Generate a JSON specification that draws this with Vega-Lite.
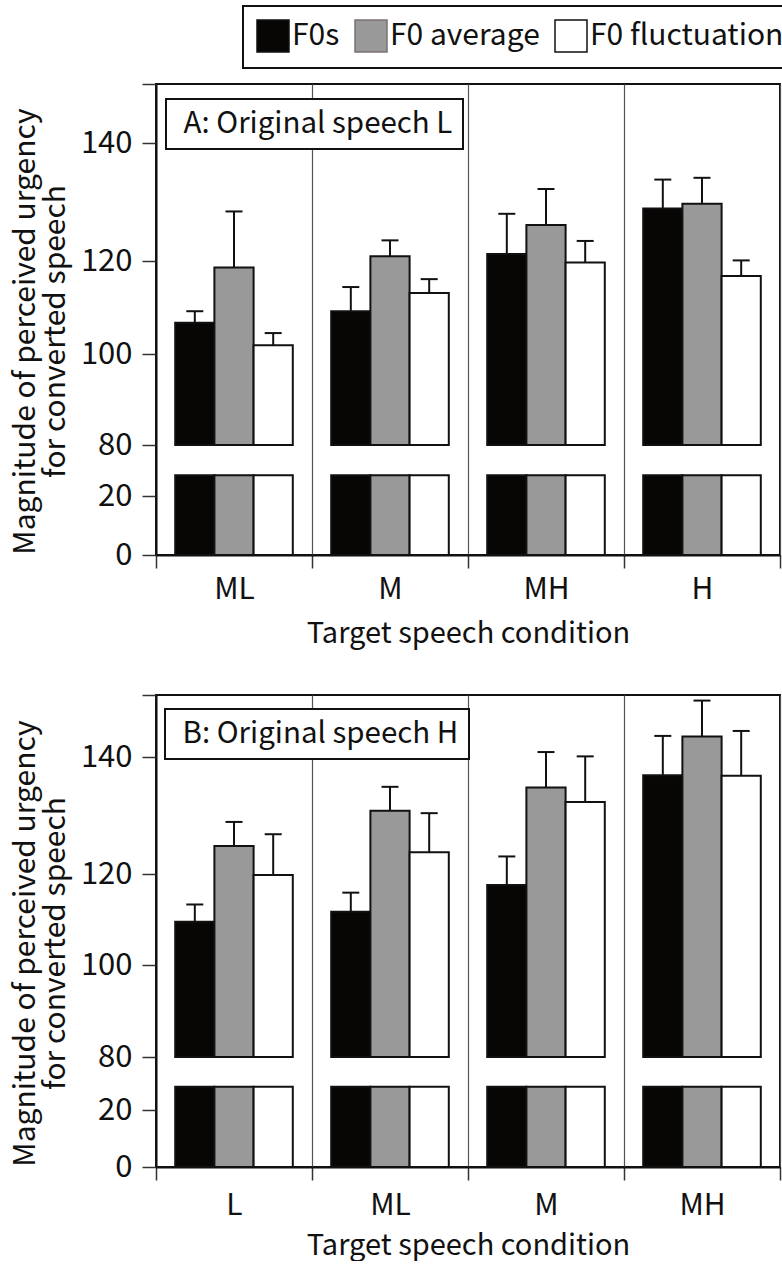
{
  "$schema": "https://vega.github.io/schema/vega-lite/v6.json",
  "padding": {"left": 9, "top": 4, "right": 0, "bottom": 0},
  "background": "white",
  "config": {
    "font": "Noto Sans CJK JP",
    "view": {"stroke": "#111111", "strokeWidth": 2},
    "axis": {
      "labelFont": "Noto Sans CJK JP",
      "titleFont": "Noto Sans CJK JP",
      "labelColor": "#111111",
      "titleColor": "#111111",
      "titleFontWeight": "normal",
      "domainColor": "#111111",
      "domainWidth": 2,
      "tickColor": "#333333",
      "tickWidth": 1.5
    },
    "legend": {"labelFont": "Noto Sans CJK JP", "labelColor": "#111111", "strokeWidth": 2}
  },
  "datasets": {
    "panelA": [
      {"panel": "A: Original speech L", "condition": "ML", "factor": "F0s", "value": 106.7, "err": 109.2},
      {"panel": "A: Original speech L", "condition": "ML", "factor": "F0 average", "value": 118.6, "err": 128.4},
      {"panel": "A: Original speech L", "condition": "ML", "factor": "F0 fluctuation", "value": 101.9, "err": 104.5},
      {"panel": "A: Original speech L", "condition": "M", "factor": "F0s", "value": 109.2, "err": 114.4},
      {"panel": "A: Original speech L", "condition": "M", "factor": "F0 average", "value": 120.8, "err": 123.5},
      {"panel": "A: Original speech L", "condition": "M", "factor": "F0 fluctuation", "value": 113.1, "err": 116.1},
      {"panel": "A: Original speech L", "condition": "MH", "factor": "F0s", "value": 121.2, "err": 128.0},
      {"panel": "A: Original speech L", "condition": "MH", "factor": "F0 average", "value": 126.1, "err": 132.2},
      {"panel": "A: Original speech L", "condition": "MH", "factor": "F0 fluctuation", "value": 119.7, "err": 123.4},
      {"panel": "A: Original speech L", "condition": "H", "factor": "F0s", "value": 128.9, "err": 133.8},
      {"panel": "A: Original speech L", "condition": "H", "factor": "F0 average", "value": 129.7, "err": 134.1},
      {"panel": "A: Original speech L", "condition": "H", "factor": "F0 fluctuation", "value": 116.8, "err": 120.1}
    ],
    "panelB": [
      {"panel": "B: Original speech H", "condition": "L", "factor": "F0s", "value": 109.5, "err": 113.3},
      {"panel": "B: Original speech H", "condition": "L", "factor": "F0 average", "value": 124.8, "err": 128.9},
      {"panel": "B: Original speech H", "condition": "L", "factor": "F0 fluctuation", "value": 119.8, "err": 126.8},
      {"panel": "B: Original speech H", "condition": "ML", "factor": "F0s", "value": 111.7, "err": 115.9},
      {"panel": "B: Original speech H", "condition": "ML", "factor": "F0 average", "value": 130.8, "err": 134.9},
      {"panel": "B: Original speech H", "condition": "ML", "factor": "F0 fluctuation", "value": 123.7, "err": 130.4},
      {"panel": "B: Original speech H", "condition": "M", "factor": "F0s", "value": 117.6, "err": 123.0},
      {"panel": "B: Original speech H", "condition": "M", "factor": "F0 average", "value": 134.8, "err": 140.8},
      {"panel": "B: Original speech H", "condition": "M", "factor": "F0 fluctuation", "value": 132.3, "err": 140.1},
      {"panel": "B: Original speech H", "condition": "MH", "factor": "F0s", "value": 136.9, "err": 143.4},
      {"panel": "B: Original speech H", "condition": "MH", "factor": "F0 average", "value": 143.3, "err": 149.1},
      {"panel": "B: Original speech H", "condition": "MH", "factor": "F0 fluctuation", "value": 136.8, "err": 144.2}
    ]
  },
  "spacing": 44,
  "resolve": {
    "scale": {"fill": "independent", "shape": "independent", "x": "independent", "y": "independent", "xOffset": "independent"},
    "legend": {"fill": "independent", "shape": "independent"}
  },
  "vconcat": [
    {
      "width": 624,
      "height": 471,
      "data": {"name": "panelA"},
      "encoding": {
        "x": {
          "field": "condition", "type": "nominal", "sort": ["ML", "M", "MH", "H"],
          "scale": {"paddingInner": 0, "paddingOuter": 0},
          "axis": {
            "title": "Target speech condition", "labelAngle": 0, "tickBand": "extent",
            "grid": true, "gridColor": "#555555", "gridWidth": 1.2,
            "tickSize": 13, "labelFontSize": 30, "labelPadding": 6,
            "titleFontSize": 29, "titlePadding": 15
          }
        },
        "xOffset": {
          "field": "factor", "type": "nominal", "sort": ["F0s", "F0 average", "F0 fluctuation"],
          "scale": {"paddingInner": 0, "paddingOuter": 0.49}
        }
      },
      "layer": [
        {
          "mark": {"type": "bar", "stroke": "#111111", "strokeWidth": 2},
          "encoding": {
            "y": {
              "field": "value", "type": "quantitative",
              "scale": {"domain": [0, 20, 30, 80, 100, 120, 140, 150], "range": [471, 412, 386, 361, 270, 177, 59, 0], "zero": false, "nice": false},
              "axis": {
                "title": ["Magnitude of perceived urgency", "for converted speech"],
                "values": [0, 20, 80, 100, 120, 140, 150],
                "labelExpr": "datum.value == 150 ? '' : datum.label",
                "grid": false, "tickSize": 14, "labelFontSize": 31, "labelPadding": 10,
                "titleFontSize": 30, "titleLineHeight": 30, "titlePadding": 10, "titleY": 247
              }
            },
            "y2": {"datum": 80},
            "fill": {
              "field": "factor", "type": "nominal",
              "scale": {"domain": ["F0s", "F0 average", "F0 fluctuation"], "range": ["#080505", "#999999", "#ffffff"]},
              "legend": {
                "orient": "none", "legendX": 87, "legendY": -78, "direction": "horizontal",
                "title": null, "symbolType": "square", "symbolSize": 1024,
                "symbolStrokeColor": "#111111", "symbolStrokeWidth": 1.5,
                "labelFontSize": 30, "labelOffset": 2, "labelLimit": 400,
                "columnPadding": 12, "padding": 13,
                "strokeColor": "#111111", "fillColor": "white",
                "encode": {
                  "symbols": {
                    "update": {
                      "fill": {"signal": "datum.label === 'F0 average' ? '#7a7271' : (datum.label === 'F0s' ? '#080505' : '#ffffff')"},
                      "stroke": {"signal": "datum.label === 'F0 average' ? '#7a7271' : '#111111'"}
                    }
                  }
                }
              }
            }
          }
        },
        {
          "mark": {"type": "bar", "stroke": "#111111", "strokeWidth": 2},
          "encoding": {
            "y": {"datum": 0},
            "y2": {"datum": 28},
            "fill": {"field": "factor", "type": "nominal"}
          }
        },
        {
          "mark": {"type": "rule", "color": "#111111", "strokeWidth": 2},
          "encoding": {"y": {"field": "value", "type": "quantitative"}, "y2": {"field": "err"}}
        },
        {
          "mark": {"type": "tick", "orient": "horizontal", "size": 17, "thickness": 2, "color": "#111111", "opacity": 1},
          "encoding": {"y": {"field": "err", "type": "quantitative"}}
        },
        {
          "mark": {"type": "point", "opacity": 0},
          "encoding": {
            "y": {"field": "value", "type": "quantitative"},
            "shape": {
              "field": "panel", "type": "nominal",
              "legend": {
                "orient": "none", "legendX": 10, "legendY": 15, "title": null,
                "symbolSize": 0, "symbolOpacity": 0, "labelFontSize": 29.5, "labelOffset": -22,
                "labelLimit": 500, "padding": 10,
                "strokeColor": "#111111", "fillColor": "white"
              }
            }
          }
        }
      ]
    },
    {
      "width": 624,
      "height": 472,
      "data": {"name": "panelB"},
      "encoding": {
        "x": {
          "field": "condition", "type": "nominal", "sort": ["L", "ML", "M", "MH"],
          "scale": {"paddingInner": 0, "paddingOuter": 0},
          "axis": {
            "title": "Target speech condition", "labelAngle": 0, "tickBand": "extent",
            "grid": true, "gridColor": "#555555", "gridWidth": 1.2,
            "tickSize": 13, "labelFontSize": 30, "labelPadding": 10,
            "titleFontSize": 29, "titlePadding": 11
          }
        },
        "xOffset": {
          "field": "factor", "type": "nominal", "sort": ["F0s", "F0 average", "F0 fluctuation"],
          "scale": {"paddingInner": 0, "paddingOuter": 0.49}
        }
      },
      "layer": [
        {
          "mark": {"type": "bar", "stroke": "#111111", "strokeWidth": 2},
          "encoding": {
            "y": {
              "field": "value", "type": "quantitative",
              "scale": {"domain": [0, 20, 30, 80, 100, 120, 140, 150], "range": [472, 415, 386, 362, 270, 179, 62, 0], "zero": false, "nice": false},
              "axis": {
                "title": ["Magnitude of perceived urgency", "for converted speech"],
                "values": [0, 20, 80, 100, 120, 140, 150],
                "labelExpr": "datum.value == 150 ? '' : datum.label",
                "grid": false, "tickSize": 14, "labelFontSize": 31, "labelPadding": 10,
                "titleFontSize": 30, "titleLineHeight": 30, "titlePadding": 10, "titleY": 248
              }
            },
            "y2": {"datum": 80},
            "fill": {
              "field": "factor", "type": "nominal",
              "scale": {"domain": ["F0s", "F0 average", "F0 fluctuation"], "range": ["#080505", "#999999", "#ffffff"]},
              "legend": null
            }
          }
        },
        {
          "mark": {"type": "bar", "stroke": "#111111", "strokeWidth": 2},
          "encoding": {
            "y": {"datum": 0},
            "y2": {"datum": 28},
            "fill": {"field": "factor", "type": "nominal"}
          }
        },
        {
          "mark": {"type": "rule", "color": "#111111", "strokeWidth": 2},
          "encoding": {"y": {"field": "value", "type": "quantitative"}, "y2": {"field": "err"}}
        },
        {
          "mark": {"type": "tick", "orient": "horizontal", "size": 17, "thickness": 2, "color": "#111111", "opacity": 1},
          "encoding": {"y": {"field": "err", "type": "quantitative"}}
        },
        {
          "mark": {"type": "point", "opacity": 0},
          "encoding": {
            "y": {"field": "value", "type": "quantitative"},
            "shape": {
              "field": "panel", "type": "nominal",
              "legend": {
                "orient": "none", "legendX": 9, "legendY": 14, "title": null,
                "symbolSize": 0, "symbolOpacity": 0, "labelFontSize": 29.5, "labelOffset": -22,
                "labelLimit": 500, "padding": 10,
                "strokeColor": "#111111", "fillColor": "white"
              }
            }
          }
        }
      ]
    }
  ]
}
